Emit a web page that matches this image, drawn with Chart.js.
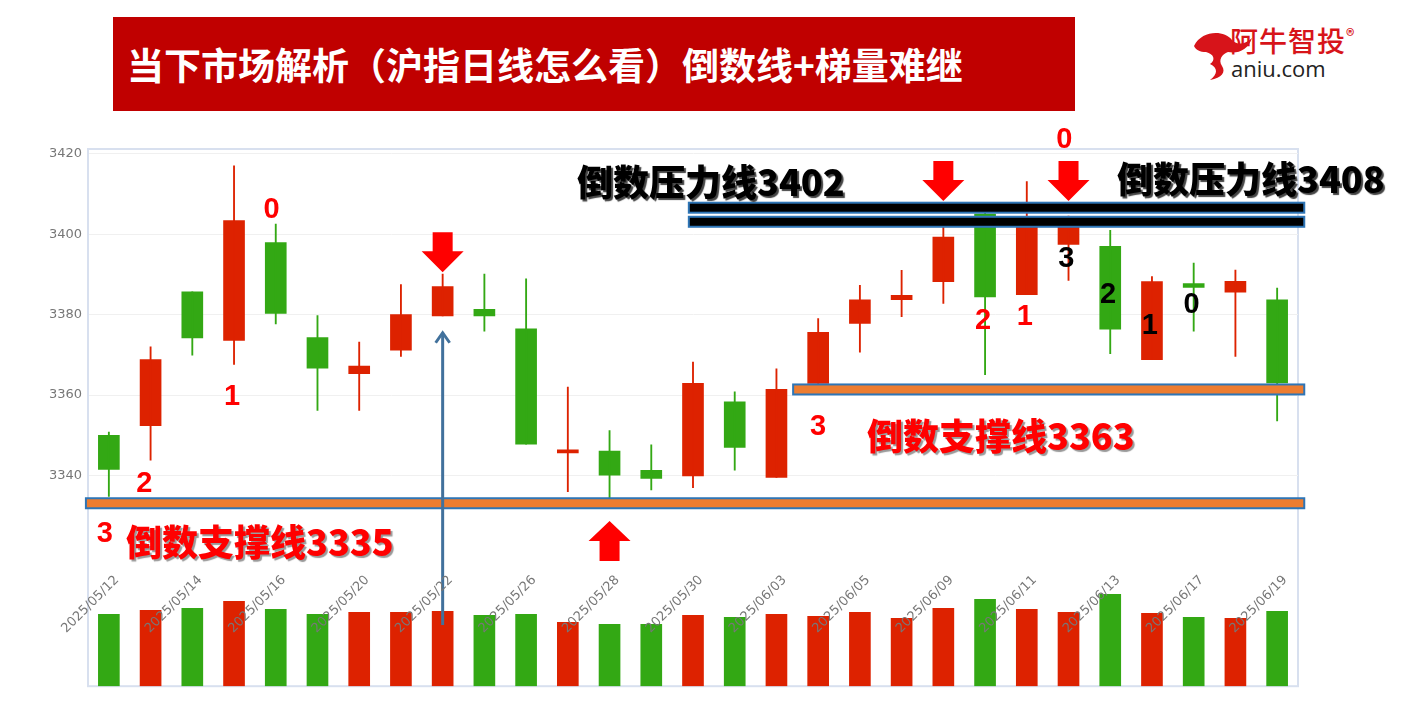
<!DOCTYPE html>
<html>
<head>
<meta charset="utf-8">
<script src="https://cdn.jsdelivr.net/npm/chart.js@4.4.0/dist/chart.umd.min.js"></script>
<style>
  body { margin: 0; width: 1404px; height: 705px; background: #fff; position: relative; overflow: hidden;
         font-family: "Noto Sans CJK SC", sans-serif; }
  #banner { position: absolute; left: 113px; top: 17px; width: 962px; height: 94px; background: #C00000;
            color: #fff; font-weight: 700; font-size: 37px; line-height: 94px; padding-left: 14px; box-sizing: border-box; white-space: nowrap; }
  #logo1 { position: absolute; left: 1230px; top: 20px; color: #d7141a; font-size: 28px; font-weight: 500; letter-spacing: 1px; }
  #logo1 sup { font-size: 17px; }
  #logo2 { position: absolute; left: 1231px; top: 53px; color: #222; font-size: 22px; font-family: "Open Sans", sans-serif; }
  #wrap { position: absolute; left: 40px; top: 110px; width: 1270px; height: 590px; }
  .big { position: absolute; font-weight: 900; font-size: 36px; white-space: nowrap; }
  .blk { color: #000; text-shadow: 2px 2px 1px #444; }
  .red { color: #f00; text-shadow: 2px 2px 1px #999; }
</style>
</head>
<body>
<div id="banner">当下市场解析（沪指日线怎么看）倒数线+梯量难继</div>
<svg style="position:absolute;left:1192px;top:24px" width="62" height="58" viewBox="0 0 62 58">
  <path d="M2 22 C10 6 32 6 40 16 C46 22 54 20 60 14 C56 26 46 30 36 28 C30 30 26 36 30 42 C34 48 30 54 18 56 C26 50 26 44 18 40 C24 36 22 30 14 28 C8 28 4 26 2 22 Z" fill="#d7141a"/>
</svg>
<div id="logo1">阿牛智投<sup>®</sup></div>
<div id="logo2">aniu.com</div>
<div id="wrap"><canvas id="c"></canvas></div>
<div class="big blk" style="left:577px;top:154px">倒数压力线3402</div>
<div class="big blk" style="left:1117px;top:151px">倒数压力线3408</div>
<div class="big red" style="left:867px;top:408px">倒数支撑线3363</div>
<div class="big red" style="left:126px;top:514px">倒数支撑线3335</div>
<script>
const dates = ["2025/05/12","2025/05/13","2025/05/14","2025/05/15","2025/05/16","2025/05/19","2025/05/20","2025/05/21",
  "2025/05/22","2025/05/23","2025/05/26","2025/05/27","2025/05/28","2025/05/29","2025/05/30","2025/06/02","2025/06/03",
  "2025/06/04","2025/06/05","2025/06/06","2025/06/09","2025/06/10","2025/06/11","2025/06/12","2025/06/13","2025/06/16",
  "2025/06/17","2025/06/18","2025/06/19"];
const openP  = [3350.0,3352.4,3385.7,3373.6,3397.9,3374.3,3365.3,3371.2,3379.7,3381.3,3376.5,3345.6,3346.1,3341.3,3339.9,3358.3,3339.5,3362.9,3377.8,3383.7,3388.2,3405.0,3385.0,3397.5,3397.0,3368.8,3387.7,3385.6,3383.7];
const closeP = [3341.5,3368.8,3374.2,3403.4,3380.3,3366.7,3367.2,3380.0,3387.0,3379.7,3347.8,3346.4,3340.1,3339.3,3362.9,3347.0,3361.4,3375.6,3383.7,3384.8,3399.3,3384.4,3403.0,3403.0,3376.4,3388.2,3386.8,3388.3,3363.0];
const highP  = [3350.8,3372.0,3385.7,3417.0,3402.5,3379.8,3373.2,3387.5,3390.1,3390.1,3388.9,3362.0,3351.2,3347.6,3368.2,3360.8,3366.5,3379.0,3387.3,3391.0,3403.5,3406.0,3413.1,3404.5,3401.0,3389.5,3392.8,3391.1,3386.6];
const lowP   = [3334.8,3343.8,3369.9,3367.6,3377.7,3356.2,3356.2,3369.6,3379.7,3375.9,3347.8,3336.0,3334.3,3336.4,3337.0,3341.3,3339.5,3362.9,3370.7,3379.5,3382.8,3365.1,3385.0,3388.5,3370.3,3368.8,3375.9,3369.6,3353.6];
const volume = [72,76,78,85,77,72,74,74,75,71,72,64,62,62,71,69,72,70,74,68,78,87,77,74,92,73,69,68,75];
const upColor = "#dd2200", downColor = "#33a814";
const colors = openP.map((o, i) => closeP[i] >= o ? upColor : downColor);
// countdown digits: [index offset, price, text, color]
const marks = [
  [-0.1,3325.5,"3","#f00"],[0.85,3338,"2","#f00"],[2.95,3359.5,"1","#f00"],[3.9,3406,"0","#f00"],
  [17.0,3352,"3","#f00"],[20.95,3378.5,"2","#f00"],[21.95,3379.5,"1","#f00"],[22.9,3423.5,"0","#f00"],
  [22.95,3393.9,"3","#000"],[23.95,3384.8,"2","#000"],[24.95,3377.2,"1","#000"],[25.95,3382.3,"0","#000"]
];
// horizontal bands: [fromIndex, toIndex, price, fill]
const bands = [
  [13.9,28.65,3406.6,"#000"],[13.9,28.65,3403.1,"#000"],
  [16.4,28.65,3361.4,"#ED7D31"],[-0.55,28.65,3333.1,"#ED7D31"]
];
const downArrows = [[8,3400.5],[20,3418.2],[23,3418.2]];
const upArrows = [[12,3328.7]];
const labelIdx = [0,2,4,6,8,10,12,14,16,18,20,22,24,26,28];
const labelText = ["2025/05/12","2025/05/14","2025/05/16","2025/05/20","2025/05/22","2025/05/26","2025/05/28","2025/05/30",
  "2025/06/03","2025/06/05","2025/06/09","2025/06/11","2025/06/13","2025/06/17","2025/06/19"];
const TOP = 110; // canvas offset in page

function xAt(sc, f) {
  const step = sc.getPixelForValue(1) - sc.getPixelForValue(0);
  return sc.getPixelForValue(0) + step * f;
}

const overlay = {
  id: "overlay",
  afterDatasetsDraw(chart) {
    const { ctx, scales: { x, y } } = chart;
    ctx.save();
    // bands
    bands.forEach(([a, b, p, fill]) => {
      const x0 = xAt(x, a), x1 = xAt(x, b), yc = y.getPixelForValue(p);
      ctx.fillStyle = fill; ctx.fillRect(x0, yc - 5, x1 - x0, 10);
      ctx.strokeStyle = "#2e75b6"; ctx.lineWidth = 2; ctx.strokeRect(x0, yc - 5, x1 - x0, 10);
    });
    // blue vertical arrow
    const bx = x.getPixelForValue(8), byTop = y.getPixelForValue(3375.5);
    ctx.strokeStyle = "#41719c"; ctx.lineWidth = 3;
    ctx.beginPath(); ctx.moveTo(bx, 625 - TOP); ctx.lineTo(bx, byTop); ctx.stroke();
    ctx.beginPath(); ctx.moveTo(bx - 7, byTop + 10); ctx.lineTo(bx, byTop); ctx.lineTo(bx + 7, byTop + 10); ctx.stroke();
    // red arrows
    ctx.fillStyle = "#f00";
    downArrows.forEach(([i, p]) => {
      const cx = x.getPixelForValue(i), top = y.getPixelForValue(p);
      ctx.beginPath();
      ctx.moveTo(cx - 10, top); ctx.lineTo(cx + 10, top); ctx.lineTo(cx + 10, top + 19);
      ctx.lineTo(cx + 21, top + 19); ctx.lineTo(cx, top + 40); ctx.lineTo(cx - 21, top + 19);
      ctx.lineTo(cx - 10, top + 19); ctx.closePath(); ctx.fill();
    });
    upArrows.forEach(([i, p]) => {
      const cx = x.getPixelForValue(i), top = y.getPixelForValue(p);
      ctx.beginPath();
      ctx.moveTo(cx, top); ctx.lineTo(cx + 21, top + 20); ctx.lineTo(cx + 10, top + 20);
      ctx.lineTo(cx + 10, top + 40); ctx.lineTo(cx - 10, top + 40); ctx.lineTo(cx - 10, top + 20);
      ctx.lineTo(cx - 21, top + 20); ctx.closePath(); ctx.fill();
    });
    // countdown digits
    ctx.font = "bold 29px 'Liberation Sans', Arial"; ctx.textAlign = "center"; ctx.textBaseline = "middle";
    marks.forEach(([f, p, t, c]) => { ctx.fillStyle = c; ctx.fillText(t, xAt(x, f), y.getPixelForValue(p)); });
    // date labels
    ctx.font = "13px 'DejaVu Sans', sans-serif"; ctx.fillStyle = "#777"; ctx.textAlign = "right"; ctx.textBaseline = "middle";
    labelIdx.forEach((idx, k) => {
      ctx.save(); ctx.translate(x.getPixelForValue(idx) + 8, 578 - TOP); ctx.rotate(-Math.PI / 4);
      ctx.fillText(labelText[k], 0, 0); ctx.restore();
    });
    ctx.restore();
  }
};

new Chart(document.getElementById("c"), {
  type: "bar",
  data: {
    labels: dates,
    datasets: [
      { data: volume, yAxisID: "y2", backgroundColor: colors, barThickness: 21, grouped: false },
      { data: lowP.map((l, i) => [l, highP[i]]), backgroundColor: colors, barThickness: 1.2, grouped: false },
      { data: openP.map((o, i) => [o, closeP[i]]), backgroundColor: colors, barThickness: 21, grouped: false }
    ]
  },
  options: {
    responsive: true, maintainAspectRatio: false, animation: false,
    layout: { padding: { top: 39, right: 12, bottom: 6 } },
    plugins: { legend: { display: false }, tooltip: { enabled: false } },
    scales: {
      x: { offset: true, display: false },
      y: {
        min: 3287.6, max: 3421.2,
        afterFit(s) { s.width = 48; },
        afterBuildTicks(s) { s.ticks = [3340, 3360, 3380, 3400, 3420].map(v => ({ value: v })); },
        ticks: { color: "#777", font: { size: 13, family: "DejaVu Sans" }, padding: 6, callback: v => String(v) },
        grid: { color: "#f0f0f0", drawTicks: false },
        border: { color: "#d8e0ef", width: 2 }
      },
      y2: { min: 0, max: 538, display: false }
    }
  },
  plugins: [overlay, {
    id: "frame",
    beforeDraw(chart) {
      const { ctx, chartArea: a } = chart;
      ctx.save(); ctx.strokeStyle = "#d8e0ef"; ctx.lineWidth = 2;
      ctx.strokeRect(a.left, a.top, a.right - a.left, a.bottom - a.top); ctx.restore();
    }
  }]
});
</script>
</body>
</html>
